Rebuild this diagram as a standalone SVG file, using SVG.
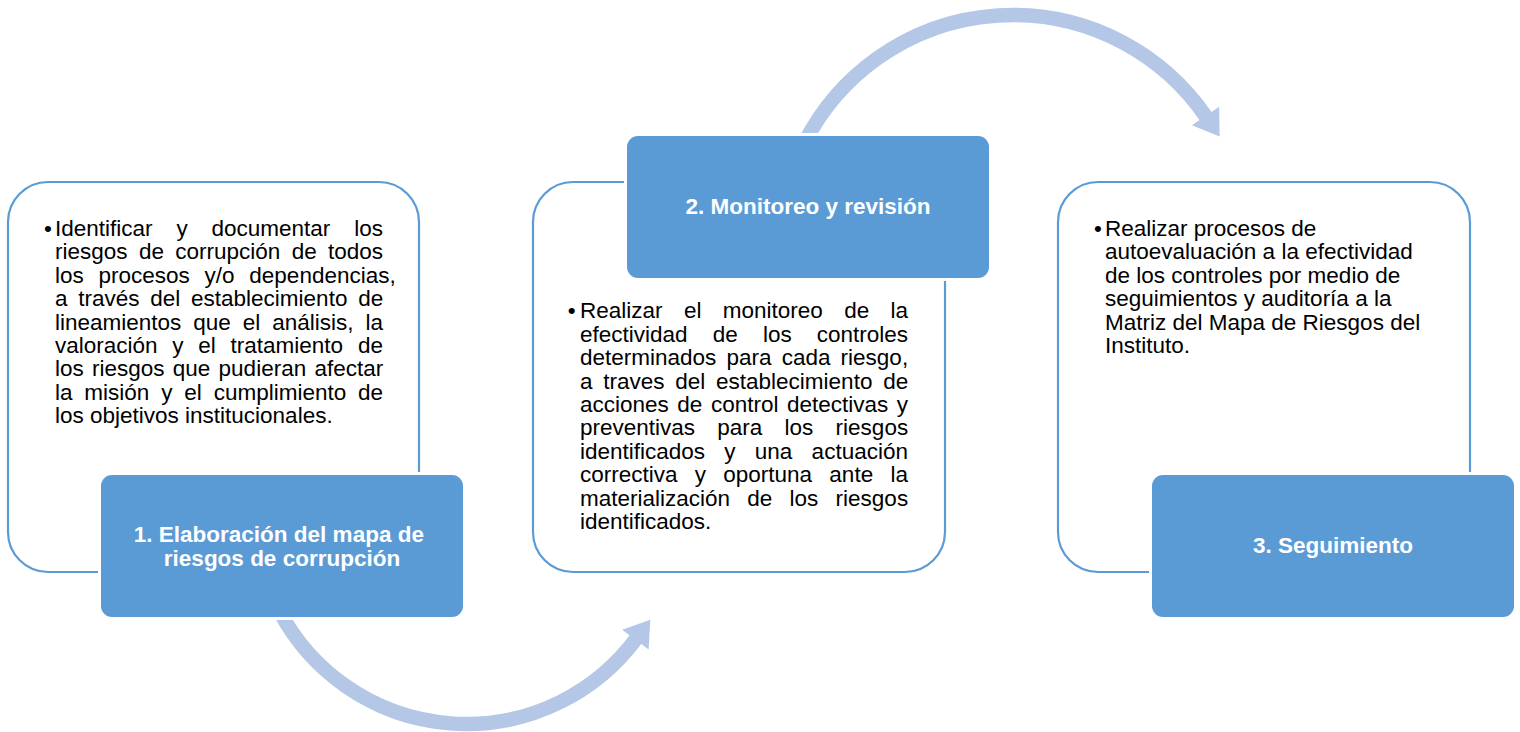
<svg xmlns="http://www.w3.org/2000/svg" width="1520" height="732" viewBox="0 0 1520 732">
  <style>
    .outline { fill: #ffffff; stroke: #5B9BD5; stroke-width: 2.2; }
    .halo { fill: #ffffff; }
    .head { fill: #5B9BD5; }
    .body { font-family: "Liberation Sans", Arial, sans-serif; font-size: 22.5px; fill: #000000; }
    .title { font-family: "Liberation Sans", Arial, sans-serif; font-size: 22.5px; font-weight: bold; fill: #ffffff; text-anchor: middle; }
    .arrow { fill: none; stroke: #B4C7E7; stroke-width: 14.5; }
  </style>
  <defs>
    <marker id="ah" markerUnits="userSpaceOnUse" orient="auto" refX="0" refY="0" markerWidth="40" markerHeight="40" viewBox="-2 -20 30 40" overflow="visible">
      <path d="M-1,-16.5 L24,0 L-1,16.5 Z" fill="#B4C7E7"/>
    </marker>
  </defs>
  <rect width="1520" height="732" fill="#ffffff"/>

  <g id="connectors">
    <path class="arrow" d="M 279.9 611.9 A 211.4 211.4 0 0 0 636 638.9" marker-end="url(#ah)"/>
    <path class="arrow" d="M 804.5 142.8 A 234 234 0 0 1 1206.1 116.8" marker-end="url(#ah)"/>
  </g>

  <g id="node1">
    <rect class="outline" x="8" y="182" width="411" height="390" rx="40"/>
    <text class="body">
      <tspan x="44" y="236">•</tspan>
      <tspan x="55" y="236" style="word-spacing:17.6px">Identificar y documentar los</tspan>
      <tspan x="55" y="259.4" style="word-spacing:5.1px">riesgos de corrupción de todos</tspan>
      <tspan x="55" y="282.8" style="word-spacing:8.5px">los procesos y/o dependencias,</tspan>
      <tspan x="55" y="306.2" style="word-spacing:4.5px">a través del establecimiento de</tspan>
      <tspan x="55" y="329.6" style="word-spacing:5.7px">lineamientos que el análisis, la</tspan>
      <tspan x="55" y="353" style="word-spacing:8.5px">valoración y el tratamiento de</tspan>
      <tspan x="55" y="376.4" style="word-spacing:2px">los riesgos que pudieran afectar</tspan>
      <tspan x="55" y="399.8" style="word-spacing:5.6px">la misión y el cumplimiento de</tspan>
      <tspan x="55" y="423.2">los objetivos institucionales.</tspan>
    </text>
    <rect class="halo" x="98" y="472" width="368" height="148" rx="13"/>
    <rect class="head" x="101" y="475" width="362" height="142" rx="11"/>
    <text class="title">
      <tspan x="282" y="541.5">1. Elaboración del mapa de</tspan>
      <tspan x="282" y="566">riesgos de corrupción</tspan>
    </text>
  </g>

  <g id="node2">
    <rect class="outline" x="533" y="182" width="412" height="390" rx="40"/>
    <text class="body">
      <tspan x="567.8" y="318.3">•</tspan>
      <tspan x="580" y="318.3" style="word-spacing:15.1px">Realizar el monitoreo de la</tspan>
      <tspan x="580" y="341.7" style="word-spacing:18.9px">efectividad de los controles</tspan>
      <tspan x="580" y="365.1" style="word-spacing:3.9px">determinados para cada riesgo,</tspan>
      <tspan x="580" y="388.5" style="word-spacing:4.5px">a traves del establecimiento de</tspan>
      <tspan x="580" y="411.9" style="word-spacing:2.3px">acciones de control detectivas y</tspan>
      <tspan x="580" y="435.3" style="word-spacing:16px">preventivas para los riesgos</tspan>
      <tspan x="580" y="458.7" style="word-spacing:13px">identificados y una actuación</tspan>
      <tspan x="580" y="482.1" style="word-spacing:11px">correctiva y oportuna ante la</tspan>
      <tspan x="580" y="505.5" style="word-spacing:11px">materialización de los riesgos</tspan>
      <tspan x="580" y="528.9">identificados.</tspan>
    </text>
    <rect class="halo" x="624" y="133" width="368" height="148" rx="13"/>
    <rect class="head" x="627" y="136" width="362" height="142" rx="11"/>
    <text class="title" x="808" y="213.5">2. Monitoreo y revisión</text>
  </g>

  <g id="node3">
    <rect class="outline" x="1058" y="182" width="412" height="390" rx="40"/>
    <text class="body">
      <tspan x="1094" y="236">•</tspan>
      <tspan x="1105" y="236">Realizar procesos de</tspan>
      <tspan x="1105" y="259.4">autoevaluación a la efectividad</tspan>
      <tspan x="1105" y="282.8">de los controles por medio de</tspan>
      <tspan x="1105" y="306.2">seguimientos y auditoría a la</tspan>
      <tspan x="1105" y="329.6">Matriz del Mapa de Riesgos del</tspan>
      <tspan x="1105" y="353">Instituto.</tspan>
    </text>
    <rect class="halo" x="1149" y="472" width="368" height="148" rx="13"/>
    <rect class="head" x="1152" y="475" width="362" height="142" rx="11"/>
    <text class="title" x="1333" y="553.3">3. Seguimiento</text>
  </g>
</svg>
